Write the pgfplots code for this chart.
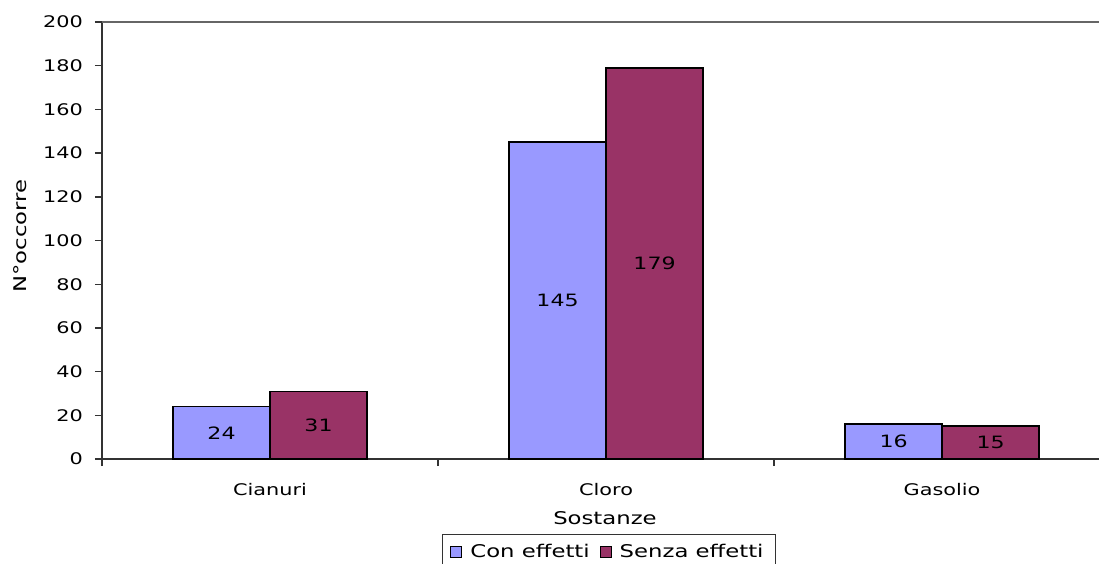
\documentclass[border=0pt]{standalone}
\usepackage{fontspec}
\setmainfont{DejaVu Sans}[FakeStretch=1.3]
\usepackage{pgfplots}
\pgfplotsset{compat=1.18}
\definecolor{conC}{HTML}{9999FF}
\definecolor{senzaC}{HTML}{993366}
\begin{document}
\begin{tikzpicture}
\begin{axis}[
  scale only axis, width=498.5pt, height=218.5pt,
  ybar=0pt, bar width=48.5pt,
  xmin=-0.5, xmax=2.467, ymin=0, ymax=200,
  axis x line*=bottom, axis y line*=left,
  axis line style={line width=0.7pt, black!80},
  /pgf/number format/assume math mode=true,
  ytick={0,20,...,200},
  xtick={-0.5,0.5,1.5}, xticklabels={},
  extra x ticks={0,1,2},
  extra x tick labels={Cianuri,Cloro,Gasolio},
  extra x tick style={major tick length=0pt},
  xticklabel style={yshift=-8.5pt},
  tick align=outside, major tick length=3.5pt,
  tick style={line width=0.7pt, black!80},
  ticklabel style={font=\fontsize{8}{9}\selectfont},
  yticklabel style={xshift=-2.5pt},
  xlabel={Sostanze},
  xlabel style={at={(axis description cs:0.5045,-0.135)}, anchor=center, font=\fontsize{8.75}{10}\selectfont},
  ylabel={N°occorre},
  ylabel style={at={(axis description cs:-0.0822,0.51)}, anchor=center, rotate=0, font=\fontsize{8.75}{10}\selectfont},
  legend style={at={(axis description cs:0.5085,-0.1725)}, anchor=north, legend columns=2,
    draw=black!80, line width=0.5pt, font=\fontsize{8.75}{10}\selectfont,
    inner xsep=4pt, inner ysep=2.5pt,
    /tikz/every odd column/.append style={column sep=2pt},
    /tikz/every even column/.append style={column sep=3pt}},
  legend image code/.code={\draw[#1,draw=black,line width=0.5pt] (0pt,-2.75pt) rectangle (5.5pt,2.75pt);},
  nodes near coords,
  visualization depends on={rawy \as \yval},
  every node near coord/.append style={anchor=center, yshift={-0.54625pt*\yval}, font=\fontsize{8.5}{10}\selectfont, black},
]
\addplot[fill=conC, draw=black, line width=0.75pt] coordinates {(0,24) (1,145) (2,16)};
\addplot[fill=senzaC, draw=black, line width=0.75pt] coordinates {(0,31) (1,179) (2,15)};
\legend{Con effetti, Senza effetti}
\draw[black!60, line width=0.7pt] (rel axis cs:0,1) -- (rel axis cs:1,1);
\end{axis}
\pgfresetboundingbox
\path[use as bounding box] (-51pt,-52pt) rectangle (498.5pt,229.5pt);
\end{tikzpicture}
\end{document}
